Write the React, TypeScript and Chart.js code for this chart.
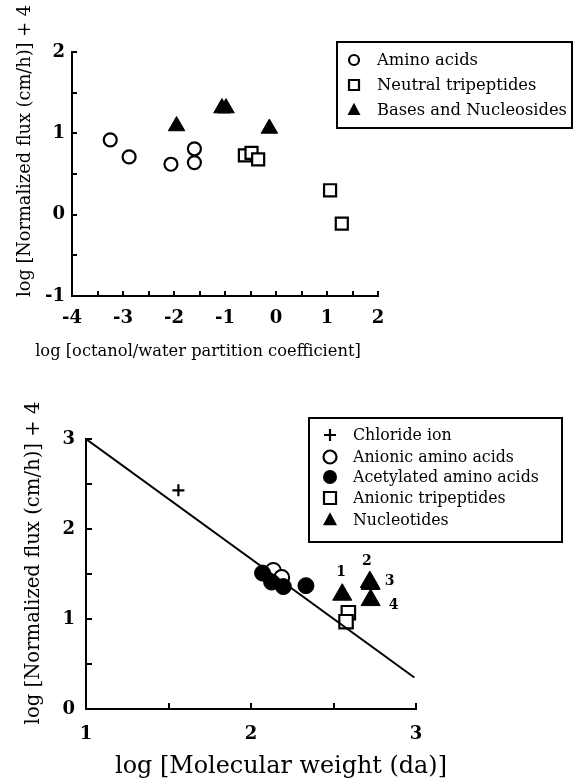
import React, { useEffect, useRef } from "react";
import { Chart, registerables } from "chart.js";

Chart.register(...registerables);

// ---------------- Top panel data ----------------
const topXTicks = [-4, -3, -2, -1, 0, 1, 2];
const topYTicks = [-1, 0, 1, 2];
const aminoAcidsX = [-3.25, -2.88, -2.06, -1.6, -1.6];
const aminoAcidsY = [0.92, 0.71, 0.62, 0.81, 0.64];
const neutralTripeptidesX = [-0.61, -0.48, -0.35, 1.06, 1.29];
const neutralTripeptidesY = [0.73, 0.76, 0.68, 0.3, -0.11];
const basesNucleosidesX = [-1.95, -1.06, -0.98, -0.13];
const basesNucleosidesY = [1.09, 1.31, 1.31, 1.06];
const topLegend = ["Amino acids", "Neutral tripeptides", "Bases and Nucleosides"];
const topXTitle = "log [octanol/water partition coefficient]";
const yTitle = "log [Normalized flux (cm/h)] + 4";

// ---------------- Bottom panel data ----------------
const bottomXTicks = [1, 2, 3];
const bottomYTicks = [0, 1, 2, 3];
const chlorideX = [1.56];
const chlorideY = [2.43];
const anionicAminoX = [2.135, 2.186];
const anionicAminoY = [1.54, 1.46];
const acetylatedX = [2.07, 2.125, 2.196, 2.333];
const acetylatedY = [1.51, 1.41, 1.36, 1.37];
const anionicTripeptidesX = [2.59, 2.576];
const anionicTripeptidesY = [1.07, 0.97];
const nucleotidesX = [2.553, 2.72, 2.725, 2.725];
const nucleotidesY = [1.27, 1.41, 1.39, 1.21];
const nucleotideLabels = ["1", "2", "3", "4"];
const fitLineX = [1, 2.99];
const fitLineY = [3, 0.35];
const bottomLegend = [
  "Chloride ion",
  "Anionic amino acids",
  "Acetylated amino acids",
  "Anionic tripeptides",
  "Nucleotides",
];
const bottomXTitle = "log [Molecular weight (da)]";

const SERIF = "'DejaVu Serif', 'Liberation Serif', serif";

const pts = (xs: number[], ys: number[]) => xs.map((x, i) => ({ x, y: ys[i] }));

function fitFont(ctx: CanvasRenderingContext2D, text: string, width: number, weight = "") {
  ctx.font = `${weight} 20px ${SERIF}`;
  const w = ctx.measureText(text).width;
  const size = (20 * width) / w;
  return `${weight} ${size.toFixed(2)}px ${SERIF}`;
}

function drawText(
  ctx: CanvasRenderingContext2D,
  text: string,
  cx: number,
  cy: number,
  width: number,
  rotate = false
) {
  ctx.save();
  ctx.font = fitFont(ctx, text, width);
  ctx.fillStyle = "#000";
  ctx.textAlign = "center";
  ctx.textBaseline = "middle";
  ctx.translate(cx, cy);
  if (rotate) ctx.rotate(-Math.PI / 2);
  ctx.fillText(text, 0, 0);
  ctx.restore();
}

function drawSymbol(ctx: CanvasRenderingContext2D, kind: string, x: number, y: number, s: number) {
  ctx.save();
  ctx.lineWidth = 2.2;
  ctx.strokeStyle = "#000";
  ctx.fillStyle = "#000";
  ctx.beginPath();
  if (kind === "circleOpen" || kind === "circleFilled") {
    ctx.arc(x, y, s, 0, Math.PI * 2);
    if (kind === "circleOpen") {
      ctx.fillStyle = "#fff";
      ctx.fill();
      ctx.stroke();
    } else ctx.fill();
  } else if (kind === "square") {
    ctx.rect(x - s, y - s, 2 * s, 2 * s);
    ctx.fillStyle = "#fff";
    ctx.fill();
    ctx.stroke();
  } else if (kind === "triangle") {
    ctx.moveTo(x, y - s * 1.1);
    ctx.lineTo(x + s, y + s * 0.75);
    ctx.lineTo(x - s, y + s * 0.75);
    ctx.closePath();
    ctx.fill();
  } else if (kind === "plus") {
    ctx.moveTo(x - s, y);
    ctx.lineTo(x + s, y);
    ctx.moveTo(x, y - s);
    ctx.lineTo(x, y + s);
    ctx.stroke();
  }
  ctx.restore();
}

type Overlay = {
  xMinor: number[];
  yMinor: number[];
  tickLen: number;
  legend: {
    labels: string[];
    kinds: string[];
    box: number[];
    symX: number;
    textX: number;
    rows: number[];
    textWidth: number;
    sym: number[];
  };
  xTitle: { text: string; cx: number; cy: number; w: number };
  yTitle: { text: string; cx: number; cy: number; w: number };
  pointLabels?: { dataset: number; labels: string[]; offsets: number[][] };
};

const overlayPlugin = {
  id: "overlay",
  afterDraw(chart: any) {
    const o: Overlay = chart.options.plugins.overlay;
    if (!o) return;
    const ctx: CanvasRenderingContext2D = chart.ctx;
    const xs = chart.scales.x;
    const ys = chart.scales.y;
    const area = chart.chartArea;
    ctx.save();
    ctx.strokeStyle = "#000";
    ctx.lineWidth = 2;
    // inward tick marks
    o.xMinor.forEach((v) => {
      const px = Math.round(xs.getPixelForValue(v));
      ctx.beginPath();
      ctx.moveTo(px, area.bottom);
      ctx.lineTo(px, area.bottom - o.tickLen);
      ctx.stroke();
    });
    o.yMinor.forEach((v) => {
      const py = Math.round(ys.getPixelForValue(v));
      ctx.beginPath();
      ctx.moveTo(area.left, py);
      ctx.lineTo(area.left + o.tickLen, py);
      ctx.stroke();
    });
    ctx.restore();

    // axis titles
    drawText(ctx, o.xTitle.text, o.xTitle.cx, o.xTitle.cy, o.xTitle.w);
    drawText(ctx, o.yTitle.text, o.yTitle.cx, o.yTitle.cy, o.yTitle.w, true);

    // legend
    const L = o.legend;
    ctx.save();
    ctx.lineWidth = 2;
    ctx.strokeStyle = "#000";
    ctx.fillStyle = "#fff";
    ctx.fillRect(L.box[0], L.box[1], L.box[2] - L.box[0], L.box[3] - L.box[1]);
    ctx.strokeRect(L.box[0], L.box[1], L.box[2] - L.box[0], L.box[3] - L.box[1]);
    const longest = L.labels.reduce((a, b) => (a.length > b.length ? a : b));
    ctx.font = fitFont(ctx, longest, L.textWidth);
    ctx.fillStyle = "#000";
    ctx.textAlign = "left";
    ctx.textBaseline = "middle";
    L.labels.forEach((t, i) => {
      drawSymbol(ctx, L.kinds[i], L.symX, L.rows[i], L.sym[i]);
      ctx.fillText(t, L.textX, L.rows[i] + 1);
    });
    ctx.restore();

    // point labels
    if (o.pointLabels) {
      const meta = chart.getDatasetMeta(o.pointLabels.dataset);
      ctx.save();
      ctx.font = `bold 14px ${SERIF}`;
      ctx.fillStyle = "#000";
      ctx.textAlign = "center";
      ctx.textBaseline = "middle";
      o.pointLabels.labels.forEach((t, i) => {
        const el = meta.data[i];
        const off = o.pointLabels!.offsets[i];
        ctx.fillText(t, el.x + off[0], el.y + off[1]);
      });
      ctx.restore();
    }
  },
};

function axisOptions(
  ticks: number[],
  min: number,
  max: number,
  size: number,
  padding: number,
  isY: boolean
) {
  return {
    type: "linear",
    min,
    max,
    afterBuildTicks: (scale: any) => {
      scale.ticks = ticks.map((v) => ({ value: v }));
    },
    afterFit: (scale: any) => {
      if (isY) scale.width = size;
      else scale.height = size;
    },
    grid: { display: true, drawOnChartArea: false, drawTicks: false },
    border: { display: true, color: "#000", width: 2 },
    ticks: {
      color: "#000",
      padding,
      font: { family: SERIF, size: 18, weight: "bold" },
      callback: (v: number) => String(v),
    },
  };
}

function rangeStep(a: number, b: number, s: number) {
  const out: number[] = [];
  for (let v = a; v <= b + 1e-9; v += s) out.push(Math.round(v * 100) / 100);
  return out;
}

function TopChart() {
  const ref = useRef<HTMLCanvasElement>(null);
  useEffect(() => {
    const chart = new Chart(ref.current!, {
      type: "scatter",
      data: {
        datasets: [
          {
            label: topLegend[0],
            data: pts(aminoAcidsX, aminoAcidsY),
            pointStyle: "circle",
            pointRadius: 6.5,
            borderWidth: 2.2,
            borderColor: "#000",
            backgroundColor: "#fff",
          },
          {
            label: topLegend[1],
            data: pts(neutralTripeptidesX, neutralTripeptidesY),
            pointStyle: "rect",
            pointRadius: 8.5,
            borderWidth: 2.2,
            borderColor: "#000",
            backgroundColor: "#fff",
          },
          {
            label: topLegend[2],
            data: pts(basesNucleosidesX, basesNucleosidesY),
            pointStyle: "triangle",
            pointRadius: 9.5,
            borderWidth: 1,
            borderColor: "#000",
            backgroundColor: "#000",
          },
        ],
      },
      options: {
        animation: false,
        responsive: false,
        devicePixelRatio: 1,
        layout: { padding: { top: 52, right: 196, left: 0, bottom: 0 } },
        scales: {
          x: axisOptions(topXTicks, -4, 2, 69, 12, false) as any,
          y: axisOptions(topYTicks, -1, 2, 72, 7, true) as any,
        },
        plugins: {
          legend: { display: false },
          tooltip: { enabled: false },
          overlay: {
            xMinor: rangeStep(-3.5, 2, 0.5),
            yMinor: rangeStep(-0.5, 2, 0.5),
            tickLen: 5,
            legend: {
              labels: topLegend,
              kinds: ["circleOpen", "square", "triangle"],
              box: [337, 42, 572, 128],
              symX: 354,
              textX: 377,
              rows: [60, 85, 110],
              textWidth: 190,
              sym: [5, 5, 6.5],
            },
            xTitle: { text: topXTitle, cx: 198, cy: 352, w: 326 },
            yTitle: { text: yTitle, cx: 25, cy: 151, w: 292 },
          },
        } as any,
      },
      plugins: [overlayPlugin],
    });
    return () => chart.destroy();
  }, []);
  return <canvas ref={ref} width={574} height={365} style={{ display: "block" }} />;
}

function BottomChart() {
  const ref = useRef<HTMLCanvasElement>(null);
  useEffect(() => {
    const chart = new Chart(ref.current!, {
      type: "scatter",
      data: {
        datasets: [
          {
            label: "fit",
            data: pts(fitLineX, fitLineY),
            showLine: true,
            pointRadius: 0,
            borderWidth: 2,
            borderColor: "#000",
            backgroundColor: "#000",
          },
          {
            label: bottomLegend[0],
            data: pts(chlorideX, chlorideY),
            pointStyle: "cross",
            pointRadius: 6,
            borderWidth: 2.2,
            borderColor: "#000",
          },
          {
            label: bottomLegend[2],
            data: pts(acetylatedX, acetylatedY),
            pointStyle: "circle",
            pointRadius: 8,
            borderWidth: 1,
            borderColor: "#000",
            backgroundColor: "#000",
          },
          {
            label: bottomLegend[1],
            data: pts(anionicAminoX, anionicAminoY),
            pointStyle: "circle",
            pointRadius: 7.5,
            borderWidth: 2,
            borderColor: "#000",
            backgroundColor: "#fff",
          },
          {
            label: bottomLegend[3],
            data: pts(anionicTripeptidesX, anionicTripeptidesY),
            pointStyle: "rect",
            pointRadius: 9.5,
            borderWidth: 2.2,
            borderColor: "#000",
            backgroundColor: "#fff",
          },
          {
            label: bottomLegend[4],
            data: pts(nucleotidesX, nucleotidesY),
            pointStyle: "triangle",
            pointRadius: 11,
            borderWidth: 1,
            borderColor: "#000",
            backgroundColor: "#000",
          },
        ],
      },
      options: {
        animation: false,
        responsive: false,
        devicePixelRatio: 1,
        layout: { padding: { top: 74, right: 158, left: 0, bottom: 0 } },
        scales: {
          x: axisOptions(bottomXTicks, 1, 3, 70, 15, false) as any,
          y: axisOptions(bottomYTicks, 0, 3, 86, 11, true) as any,
        },
        plugins: {
          legend: { display: false },
          tooltip: { enabled: false },
          overlay: {
            xMinor: [1.5, 2, 2.5, 3],
            yMinor: [0.5, 1, 1.5, 2, 2.5, 3],
            tickLen: 6,
            legend: {
              labels: bottomLegend,
              kinds: ["plus", "circleOpen", "circleFilled", "square", "triangle"],
              box: [309, 53, 562, 177],
              symX: 330,
              textX: 353,
              rows: [70, 92, 112, 133, 155],
              textWidth: 186,
              sym: [6, 6.5, 7, 6, 7],
            },
            xTitle: { text: bottomXTitle, cx: 281, cy: 402, w: 332 },
            yTitle: { text: yTitle, cx: 34, cy: 198, w: 323 },
            pointLabels: {
              dataset: 5,
              labels: nucleotideLabels,
              offsets: [
                [-1, -22],
                [-3, -21],
                [19, -3],
                [23, 5],
              ],
            },
          },
        } as any,
      },
      plugins: [overlayPlugin],
    });
    return () => chart.destroy();
  }, []);
  return <canvas ref={ref} width={574} height={414} style={{ display: "block" }} />;
}

export default function App() {
  return (
    <div
      style={{
        position: "absolute",
        left: 0,
        top: 0,
        width: 574,
        height: 779,
        background: "#fff",
      }}
    >
      <TopChart />
      <BottomChart />
    </div>
  );
}
